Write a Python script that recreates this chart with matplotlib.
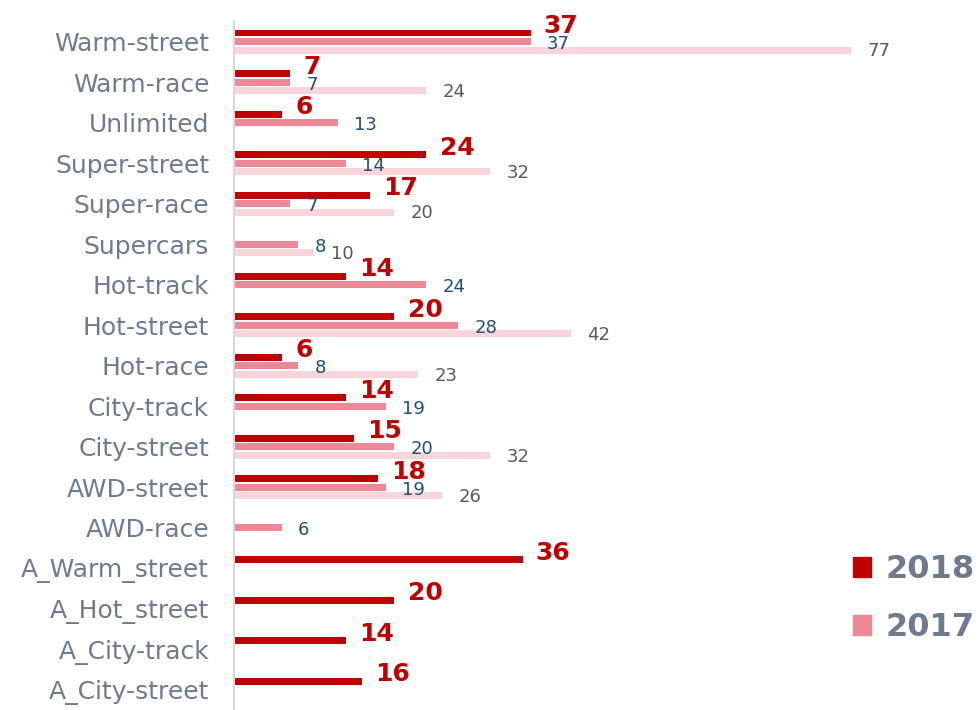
import numpy as np
import matplotlib
matplotlib.use("Agg")
import matplotlib.pyplot as plt
from matplotlib.patches import Patch

# ---------------- data (top to bottom) ----------------
categories = ["Warm-street", "Warm-race", "Unlimited", "Super-street", "Super-race",
              "Supercars", "Hot-track", "Hot-street", "Hot-race", "City-track",
              "City-street", "AWD-street", "AWD-race", "A_Warm_street",
              "A_Hot_street", "A_City-track", "A_City-street"]
vals_2018 = [37, 7, 6, 24, 17, None, 14, 20, 6, 14, 15, 18, None, 36, 20, 14, 16]
vals_2017 = [37, 7, 13, 14, 7, 8, 24, 28, 8, 19, 20, 19, 6, None, None, None, None]
vals_2016 = [77, 24, None, 32, 20, 10, None, 42, 23, None, 32, 26, None, None, None, None, None]

c2018 = "#C00000"
c2017 = "#EE8796"
c2016 = "#FAD4DB"
txt_grey = "#6E7B8F"

fig = plt.figure(figsize=(9.8, 7.1), dpi=100)
ax = fig.add_axes([0.239, 0.0, 0.76, 0.97])

y = np.arange(len(categories))
h = 0.17
off = 0.21

def to_arr(v):
    return np.array([np.nan if x is None else x for x in v], dtype=float)

# value, bar shift, colour, label style, label offset (points)
series = [
    (to_arr(vals_2018), -off, c2018, dict(color=c2018, fontsize=18, fontweight="bold"), (9.5, 5)),
    (to_arr(vals_2017), 0.0, c2017, dict(color="#1F4E79", fontsize=13), (11.5, -2)),
    (to_arr(vals_2016), off, c2016, dict(color="#595959", fontsize=13), (12, -1)),
]

for vals, dy, col, tstyle, toff in series:
    mask = ~np.isnan(vals)
    ax.barh(y[mask] + dy, vals[mask], height=h, color=col, zorder=2)
    for yi, v in zip(y[mask], vals[mask]):
        ax.annotate(f"{int(v)}", xy=(v, yi + dy), xytext=toff,
                    textcoords="offset points", ha="left", va="center", **tstyle)

ax.set_xlim(0, 93)
ax.set_ylim(len(categories) - 0.5, -0.5)
ax.set_yticks(y)
ax.set_yticklabels(categories, fontsize=18, color=txt_grey)
ax.tick_params(axis="y", length=0, pad=18)
ax.set_xticks([])
for s in ["top", "right", "bottom"]:
    ax.spines[s].set_visible(False)
ax.spines["left"].set_color("#D9D9D9")
ax.spines["left"].set_linewidth(1.5)

handles = [Patch(color=c2018, label="2018"), Patch(color=c2017, label="2017")]
leg = fig.legend(handles=handles, loc="upper right", bbox_to_anchor=(1.024, 0.26),
                 frameon=False, fontsize=23, handlelength=0.58, handleheight=0.58,
                 handletextpad=0.45, labelspacing=0.85)
for t in leg.get_texts():
    t.set_color(txt_grey)
    t.set_fontweight("bold")

fig.savefig("out.png", dpi=100)
